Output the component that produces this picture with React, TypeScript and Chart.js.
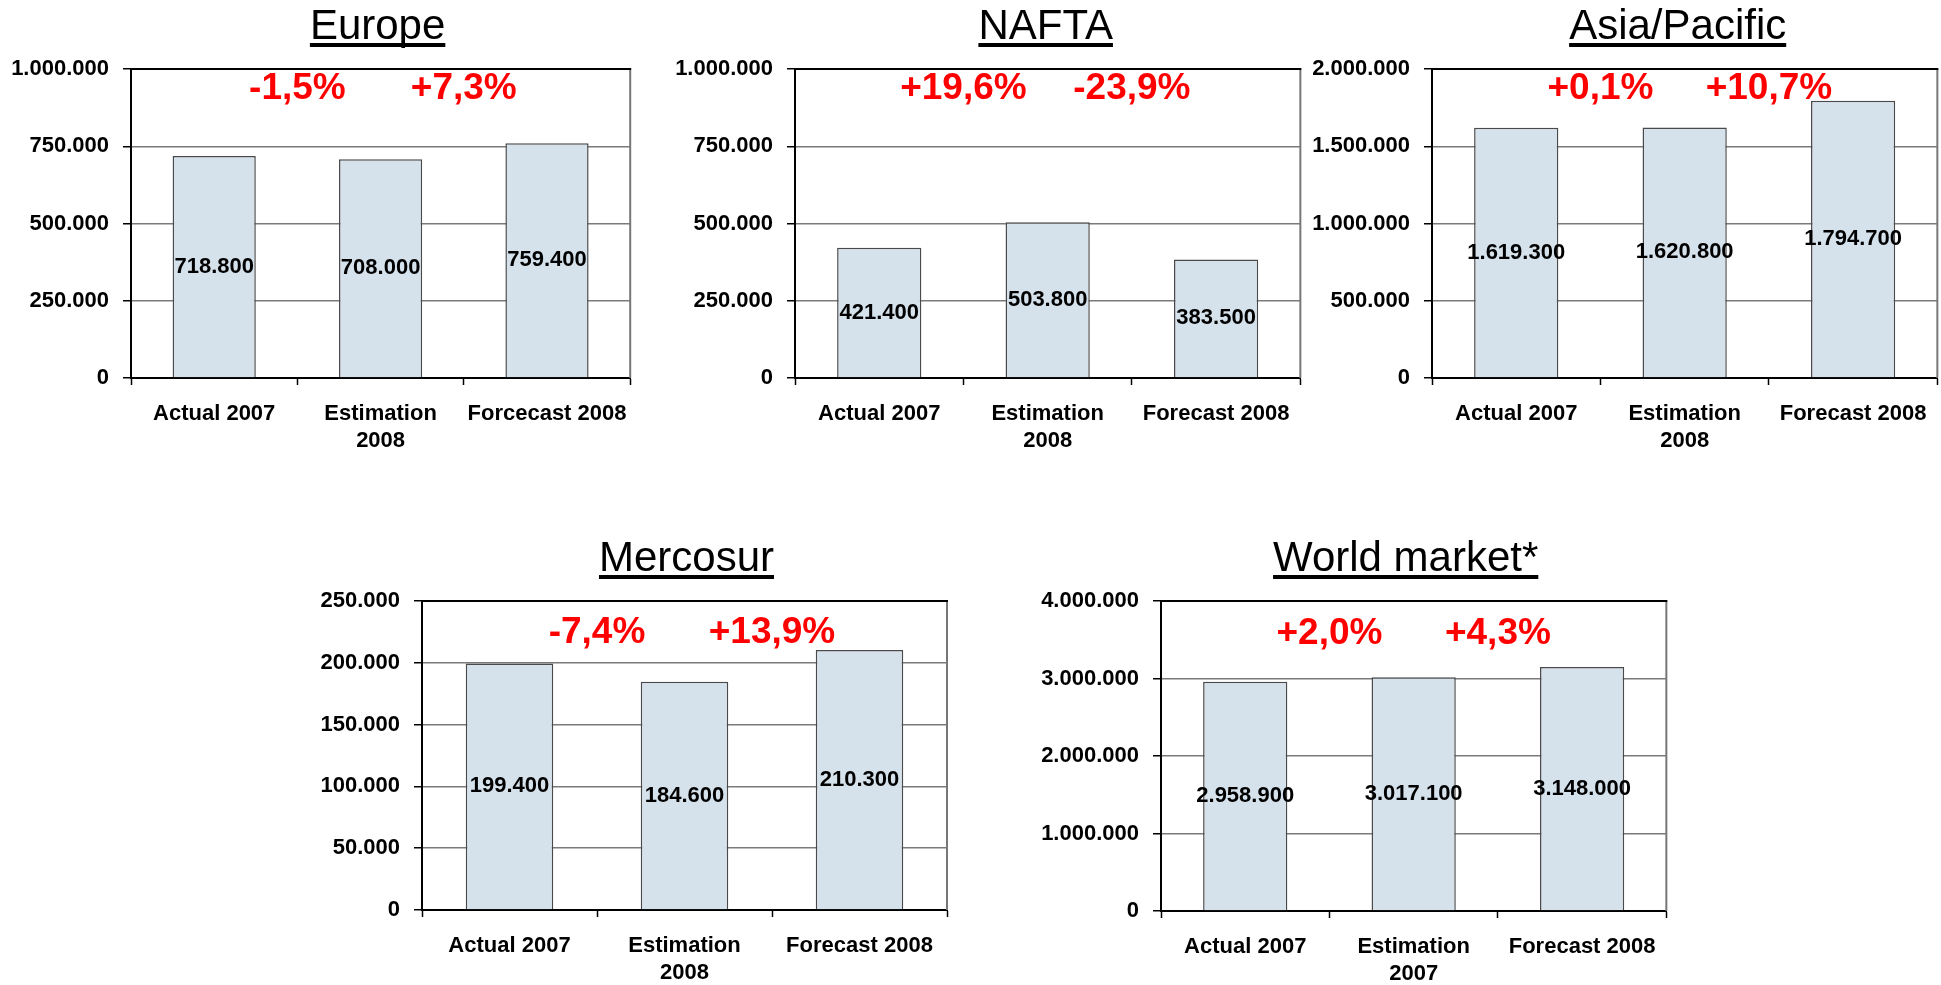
import React, { useEffect, useRef } from 'react';
import { Chart, registerables } from 'chart.js';

Chart.register(...registerables);

// ---------- data ----------
const europeCategories = ['Actual 2007', ['Estimation', '2008'], 'Forcecast 2008'];
const naftaCategories = ['Actual 2007', ['Estimation', '2008'], 'Forecast 2008'];
const asiaCategories = ['Actual 2007', ['Estimation', '2008'], 'Forecast 2008'];
const mercosurCategories = ['Actual 2007', ['Estimation', '2008'], 'Forecast 2008'];
const worldCategories = ['Actual 2007', ['Estimation', '2007'], 'Forecast 2008'];

const europeValues = [718800, 708000, 759400];
const naftaValues = [421400, 503800, 383500];
const asiaValues = [1619300, 1620800, 1794700];
const mercosurValues = [199400, 184600, 210300];
const worldValues = [2958900, 3017100, 3148000];

const europeChanges = ['-1,5%', '+7,3%'];
const naftaChanges = ['+19,6%', '-23,9%'];
const asiaChanges = ['+0,1%', '+10,7%'];
const mercosurChanges = ['-7,4%', '+13,9%'];
const worldChanges = ['+2,0%', '+4,3%'];

const europeAxis = { max: 1000000, step: 250000 };
const naftaAxis = { max: 1000000, step: 250000 };
const asiaAxis = { max: 2000000, step: 500000 };
const mercosurAxis = { max: 250000, step: 50000 };
const worldAxis = { max: 4000000, step: 1000000 };

// ---------- layout / style ----------
const FONT = '"Liberation Sans", Arial, Helvetica, sans-serif';
const Y_W = 130;
const R_PAD = 3;

const fmt = (v: number) => {
  const s = Math.round(v).toString();
  return s.replace(/\B(?=(\d{3})+(?!\d))/g, '.');
};

type Panel = {
  title: string;
  categories: any[];
  values: number[];
  changes: string[];
  axis: { max: number; step: number };
  plotLeft: number;
  plotWidth: number;
  plotTop: number;
  plotHeight: number;
  canvasTop: number;
  canvasHeight: number;
  pctBase: number;
  titleDx: number;
};

const panels: Panel[] = [
  { title: 'Europe', categories: europeCategories, values: europeValues, changes: europeChanges, axis: europeAxis,
    plotLeft: 131, plotWidth: 508, plotTop: 69, plotHeight: 309, canvasTop: 0, canvasHeight: 458, pctBase: 30, titleDx: -3 },
  { title: 'NAFTA', categories: naftaCategories, values: naftaValues, changes: naftaChanges, axis: naftaAxis,
    plotLeft: 795, plotWidth: 507, plotTop: 69, plotHeight: 309, canvasTop: 0, canvasHeight: 458, pctBase: 30, titleDx: -2 },
  { title: 'Asia/Pacific', categories: asiaCategories, values: asiaValues, changes: asiaChanges, axis: asiaAxis,
    plotLeft: 1432, plotWidth: 507, plotTop: 69, plotHeight: 309, canvasTop: 0, canvasHeight: 458, pctBase: 30, titleDx: -7 },
  { title: 'Mercosur', categories: mercosurCategories, values: mercosurValues, changes: mercosurChanges, axis: mercosurAxis,
    plotLeft: 422, plotWidth: 525, plotTop: 601, plotHeight: 309, canvasTop: 520, canvasHeight: 465, pctBase: 42, titleDx: 2 },
  { title: 'World market*', categories: worldCategories, values: worldValues, changes: worldChanges, axis: worldAxis,
    plotLeft: 1161, plotWidth: 507, plotTop: 601, plotHeight: 310, canvasTop: 520, canvasHeight: 465, pctBase: 43, titleDx: -8 },
];

const annotPlugin = {
  id: 'annot',
  afterDraw(chart: any, _args: any, opts: any) {
    const { ctx, chartArea: ca } = chart;
    ctx.save();
    // plot border: top black, right grey
    ctx.lineWidth = 2;
    ctx.strokeStyle = '#777';
    ctx.beginPath();
    ctx.moveTo(ca.right, ca.top);
    ctx.lineTo(ca.right, ca.bottom);
    ctx.stroke();
    ctx.strokeStyle = '#000';
    ctx.beginPath();
    ctx.moveTo(ca.left, ca.top);
    ctx.lineTo(ca.right + 1, ca.top);
    ctx.stroke();

    // title with underline
    ctx.font = `42px ${FONT}`;
    ctx.fillStyle = '#000';
    ctx.textAlign = 'center';
    ctx.textBaseline = 'alphabetic';
    const cx = (ca.left + ca.right) / 2 + opts.titleDx;
    const by = ca.top - 30;
    ctx.fillText(opts.title, cx, by);
    const w = ctx.measureText(opts.title).width;
    ctx.fillRect(cx - w / 2, by + 4, w, 4);

    // value labels in bar centres
    ctx.font = `bold 22px ${FONT}`;
    ctx.textBaseline = 'middle';
    const meta = chart.getDatasetMeta(0);
    meta.data.forEach((bar: any, i: number) => {
      const y = (bar.y + bar.base) / 2;
      ctx.fillText(fmt(opts.values[i]), bar.x, y);
    });

    // change labels between bars
    ctx.font = `bold 37px ${FONT}`;
    ctx.fillStyle = '#FF0000';
    ctx.textBaseline = 'alphabetic';
    const xs = chart.scales.x;
    opts.changes.forEach((c: string, i: number) => {
      const x = (xs.getPixelForValue(i) + xs.getPixelForValue(i + 1)) / 2;
      ctx.fillText(c, x, ca.top + opts.pctBase);
    });
    ctx.restore();
  },
};

function PanelChart({ p }: { p: Panel }) {
  const ref = useRef<HTMLCanvasElement | null>(null);
  const left = p.plotLeft - Y_W;
  const width = Y_W + p.plotWidth + R_PAD;
  const topPad = p.plotTop - p.canvasTop;
  const xH = p.canvasHeight - topPad - p.plotHeight;

  useEffect(() => {
    if (!ref.current) return;
    const chart = new Chart(ref.current, {
      type: 'bar',
      data: {
        labels: p.categories,
        datasets: [
          {
            data: p.values,
            backgroundColor: '#D5E1EB',
            borderColor: '#4A4A4A',
            borderWidth: 1.5,
            categoryPercentage: 1,
            barPercentage: 0.5,
          },
        ],
      },
      options: {
        animation: false,
        responsive: false,
        devicePixelRatio: 1,
        layout: { padding: { top: topPad, right: R_PAD, left: 0, bottom: 0 } },
        plugins: {
          legend: { display: false },
          title: { display: false },
          tooltip: { enabled: false },
          annot: { title: p.title, values: p.values, changes: p.changes, pctBase: p.pctBase, titleDx: p.titleDx },
        } as any,
        scales: {
          x: {
            offset: true,
            grid: {
              offset: true,
              drawOnChartArea: false,
              drawTicks: true,
              tickLength: 7,
              tickColor: '#000',
              tickWidth: 1.5,
            },
            border: { display: true, color: '#000', width: 2 },
            ticks: {
              color: '#000',
              font: { family: FONT, size: 22, weight: 'bold', lineHeight: 1.24 },
              padding: 15,
              maxRotation: 0,
              autoSkip: false,
            },
            afterFit: (s: any) => {
              s.height = xH;
            },
          },
          y: {
            min: 0,
            max: p.axis.max,
            ticks: {
              stepSize: p.axis.step,
              color: '#000',
              font: { family: FONT, size: 22, weight: 'bold' },
              padding: 14,
              callback: (v: any) => fmt(Number(v)),
            },
            grid: {
              color: '#7A7A7A',
              lineWidth: 1.5,
              drawTicks: true,
              tickLength: 8,
              tickColor: '#000',
              tickWidth: 1.5,
            },
            border: { display: true, color: '#000', width: 2 },
            afterFit: (s: any) => {
              s.width = Y_W;
            },
          },
        },
      },
      plugins: [annotPlugin],
    });
    return () => chart.destroy();
  }, []);

  return (
    <canvas
      ref={ref}
      width={width}
      height={p.canvasHeight}
      style={{ position: 'absolute', left, top: p.canvasTop, width, height: p.canvasHeight }}
    />
  );
}

export default function App() {
  return (
    <div
      style={{
        position: 'absolute',
        left: 0,
        top: 0,
        width: 1941,
        height: 985,
        overflow: 'hidden',
        background: '#fff',
      }}
    >
      {panels.map((p) => (
        <PanelChart key={p.title} p={p} />
      ))}
    </div>
  );
}
